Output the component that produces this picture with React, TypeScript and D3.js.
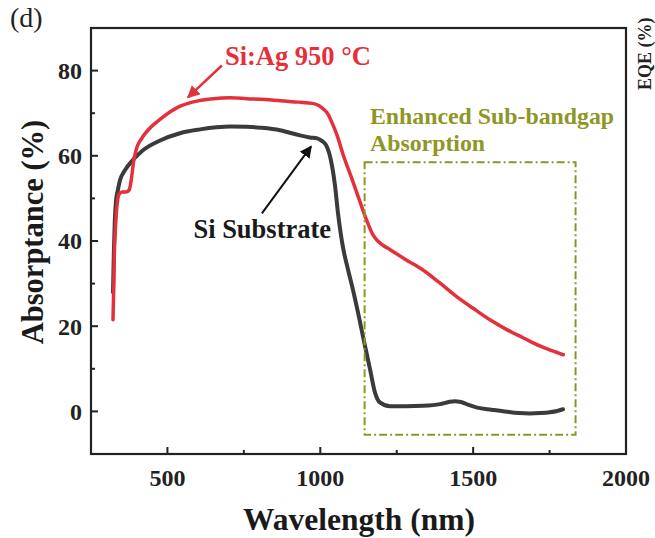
import React from "react";
import * as d3 from "d3";

// Absorptance spectra (wavelength in nm, absorptance in %)
const agWavelength = [322, 324, 326, 330, 336, 342, 352, 365, 375, 382, 389, 398, 415, 440, 480, 540, 600, 650, 705, 760, 820, 870, 930, 975, 995, 1010, 1025, 1040, 1055, 1075, 1100, 1125, 1150, 1172, 1188, 1205, 1230, 1280, 1336, 1390, 1447, 1500, 1555, 1610, 1663, 1720, 1760, 1795];
const agAbsorptance = [21.5, 28, 36, 43, 49, 51, 51.5, 51.5, 52, 54.5, 58.5, 61.5, 64, 66.3, 68.8, 71.6, 72.9, 73.4, 73.6, 73.4, 73.2, 72.9, 72.6, 72.3, 71.8, 71, 69.8, 67.5, 64.8, 60.2, 55.3, 50.2, 45.2, 41.5, 40, 39, 37.9, 35.6, 33.2, 30.2, 26.9, 24.2, 21.5, 19.2, 17.3, 15.3, 14.2, 13.3];

const siWavelength = [322, 325, 328, 332, 338, 345, 361, 387, 420, 476, 541, 607, 660, 705, 760, 803, 868, 900, 934, 966, 990, 1005, 1019, 1035, 1048, 1058, 1074, 1090, 1107, 1124, 1140, 1163, 1179, 1195, 1228, 1280, 1336, 1392, 1420, 1440, 1460, 1490, 1513, 1560, 1611, 1650, 1686, 1720, 1751, 1775, 1794];
const siAbsorptance = [28, 38, 45, 49.5, 52, 54.3, 56.6, 59, 61.3, 63.6, 65.3, 66.2, 66.7, 66.9, 66.8, 66.6, 66, 65.4, 64.8, 64.3, 64.1, 63.5, 62.5, 58.9, 53.1, 46.5, 38.6, 33.5, 28.5, 23, 17.5, 9.8, 4.4, 2.1, 1.2, 1.2, 1.3, 1.7, 2.2, 2.4, 2.2, 1.4, 0.9, 0.4, -0.1, -0.4, -0.5, -0.4, -0.2, 0.1, 0.5];

const xMajorTicks = [500, 1000, 1500, 2000];
const xMinorTicks = [750, 1250, 1750];
const yMajorTicks = [0, 20, 40, 60, 80];
const yMinorTicks = [10, 30, 50, 70];

// Highlighted sub-bandgap region
const regionWavelength = [1145, 1835];
const regionAbsorptance = [-5.5, 58.5];

const W = 655;
const H = 538;
const left = 91, right = 626, top = 28, bottom = 454;

const RED = "#e3303a";
const DARK = "#3b3b3b";
const OLIVE = "#8e9626";
const FONT = "'Liberation Serif', 'Times New Roman', serif";

export default function App() {
  const x = d3.scaleLinear().domain([250, 2000]).range([left, right]);
  const y = d3.scaleLinear().domain([-10, 90]).range([bottom, top]);

  const line = d3
    .line<[number, number]>()
    .x((d) => x(d[0]))
    .y((d) => y(d[1]))
    .curve(d3.curveMonotoneX);

  const agPts = agWavelength.map((w, i) => [w, agAbsorptance[i]] as [number, number]);
  const siPts = siWavelength.map((w, i) => [w, siAbsorptance[i]] as [number, number]);

  return (
    <svg
      width={W}
      height={H}
      style={{ position: "absolute", left: 0, top: 0, background: "#fff" }}
      fontFamily={FONT}
    >
      <defs>
        <marker id="headRed" viewBox="0 0 10 10" refX="9" refY="5" markerWidth="5" markerHeight="5" orient="auto">
          <path d="M0,0 L10,5 L0,10 z" fill={RED} />
        </marker>
        <marker id="headDark" viewBox="0 0 10 10" refX="9" refY="5" markerWidth="6" markerHeight="6" orient="auto">
          <path d="M0,0 L10,5 L0,10 z" fill="#111" />
        </marker>
      </defs>

      <rect x={0} y={0} width={W} height={H} fill="#fff" />

      {/* panel tag */}
      <text x={10} y={27} fontSize={28} fill="#222">(d)</text>

      {/* curves */}
      <path d={line(siPts) || ""} fill="none" stroke={DARK} strokeWidth={4} strokeLinejoin="round" strokeLinecap="round" />
      <path d={line(agPts) || ""} fill="none" stroke={RED} strokeWidth={3.5} strokeLinejoin="round" strokeLinecap="round" />

      {/* sub-bandgap region */}
      <rect
        x={x(regionWavelength[0])}
        y={y(regionAbsorptance[1])}
        width={x(regionWavelength[1]) - x(regionWavelength[0])}
        height={y(regionAbsorptance[0]) - y(regionAbsorptance[1])}
        fill="none"
        stroke={OLIVE}
        strokeWidth={2}
        strokeDasharray="8 3 2 3"
      />

      {/* frame */}
      <rect x={left} y={top} width={right - left} height={bottom - top} fill="none" stroke="#222" strokeWidth={2.2} />

      {/* x ticks */}
      {xMajorTicks.map((t) => (
        <g key={"xM" + t}>
          <line x1={x(t)} x2={x(t)} y1={bottom} y2={bottom - 7} stroke="#222" strokeWidth={2} />
          <text x={x(t)} y={486} fontSize={24} fontWeight="bold" textAnchor="middle" fill="#222">{t}</text>
        </g>
      ))}
      {xMinorTicks.map((t) => (
        <line key={"xm" + t} x1={x(t)} x2={x(t)} y1={bottom} y2={bottom - 4} stroke="#222" strokeWidth={2} />
      ))}

      {/* y ticks */}
      {yMajorTicks.map((t) => (
        <g key={"yM" + t}>
          <line x1={left} x2={left + 7} y1={y(t)} y2={y(t)} stroke="#222" strokeWidth={2} />
          <text x={82} y={y(t)} dy="0.35em" fontSize={24} fontWeight="bold" textAnchor="end" fill="#222">{t}</text>
        </g>
      ))}
      {yMinorTicks.map((t) => (
        <line key={"ym" + t} x1={left} x2={left + 4} y1={y(t)} y2={y(t)} stroke="#222" strokeWidth={2} />
      ))}

      {/* axis titles */}
      <text x={359} y={530} fontSize={31.5} fontWeight="bold" textAnchor="middle" fill="#1a1a1a">Wavelength (nm)</text>
      <text transform="translate(43,232) rotate(-90)" fontSize={30.5} fontWeight="bold" textAnchor="middle" fill="#1a1a1a">Absorptance (%)</text>
      <text transform="translate(651,90) rotate(-90)" fontSize={18} fontWeight="bold" textAnchor="start" fill="#222">EQE (%)</text>

      {/* annotations */}
      <text x={x(688)} y={y(81.2)} fontSize={26.5} fontWeight="bold" fill={RED}>Si:Ag 950 °C</text>
      <line x1={x(678)} y1={y(81.2)} x2={x(567)} y2={y(73.7)} stroke={RED} strokeWidth={2.5} markerEnd="url(#headRed)" />

      <text x={x(585)} y={y(40.6)} fontSize={26.5} fontWeight="bold" fill="#1a1a1a">Si Substrate</text>
      <line x1={x(809)} y1={y(46.5)} x2={x(970)} y2={y(62.2)} stroke="#111" strokeWidth={2} markerEnd="url(#headDark)" />

      <text x={370} y={124} fontSize={23.8} fontWeight="bold" fill={OLIVE}>Enhanced Sub-bandgap</text>
      <text x={370} y={151} fontSize={23.8} fontWeight="bold" fill={OLIVE}>Absorption</text>
    </svg>
  );
}
